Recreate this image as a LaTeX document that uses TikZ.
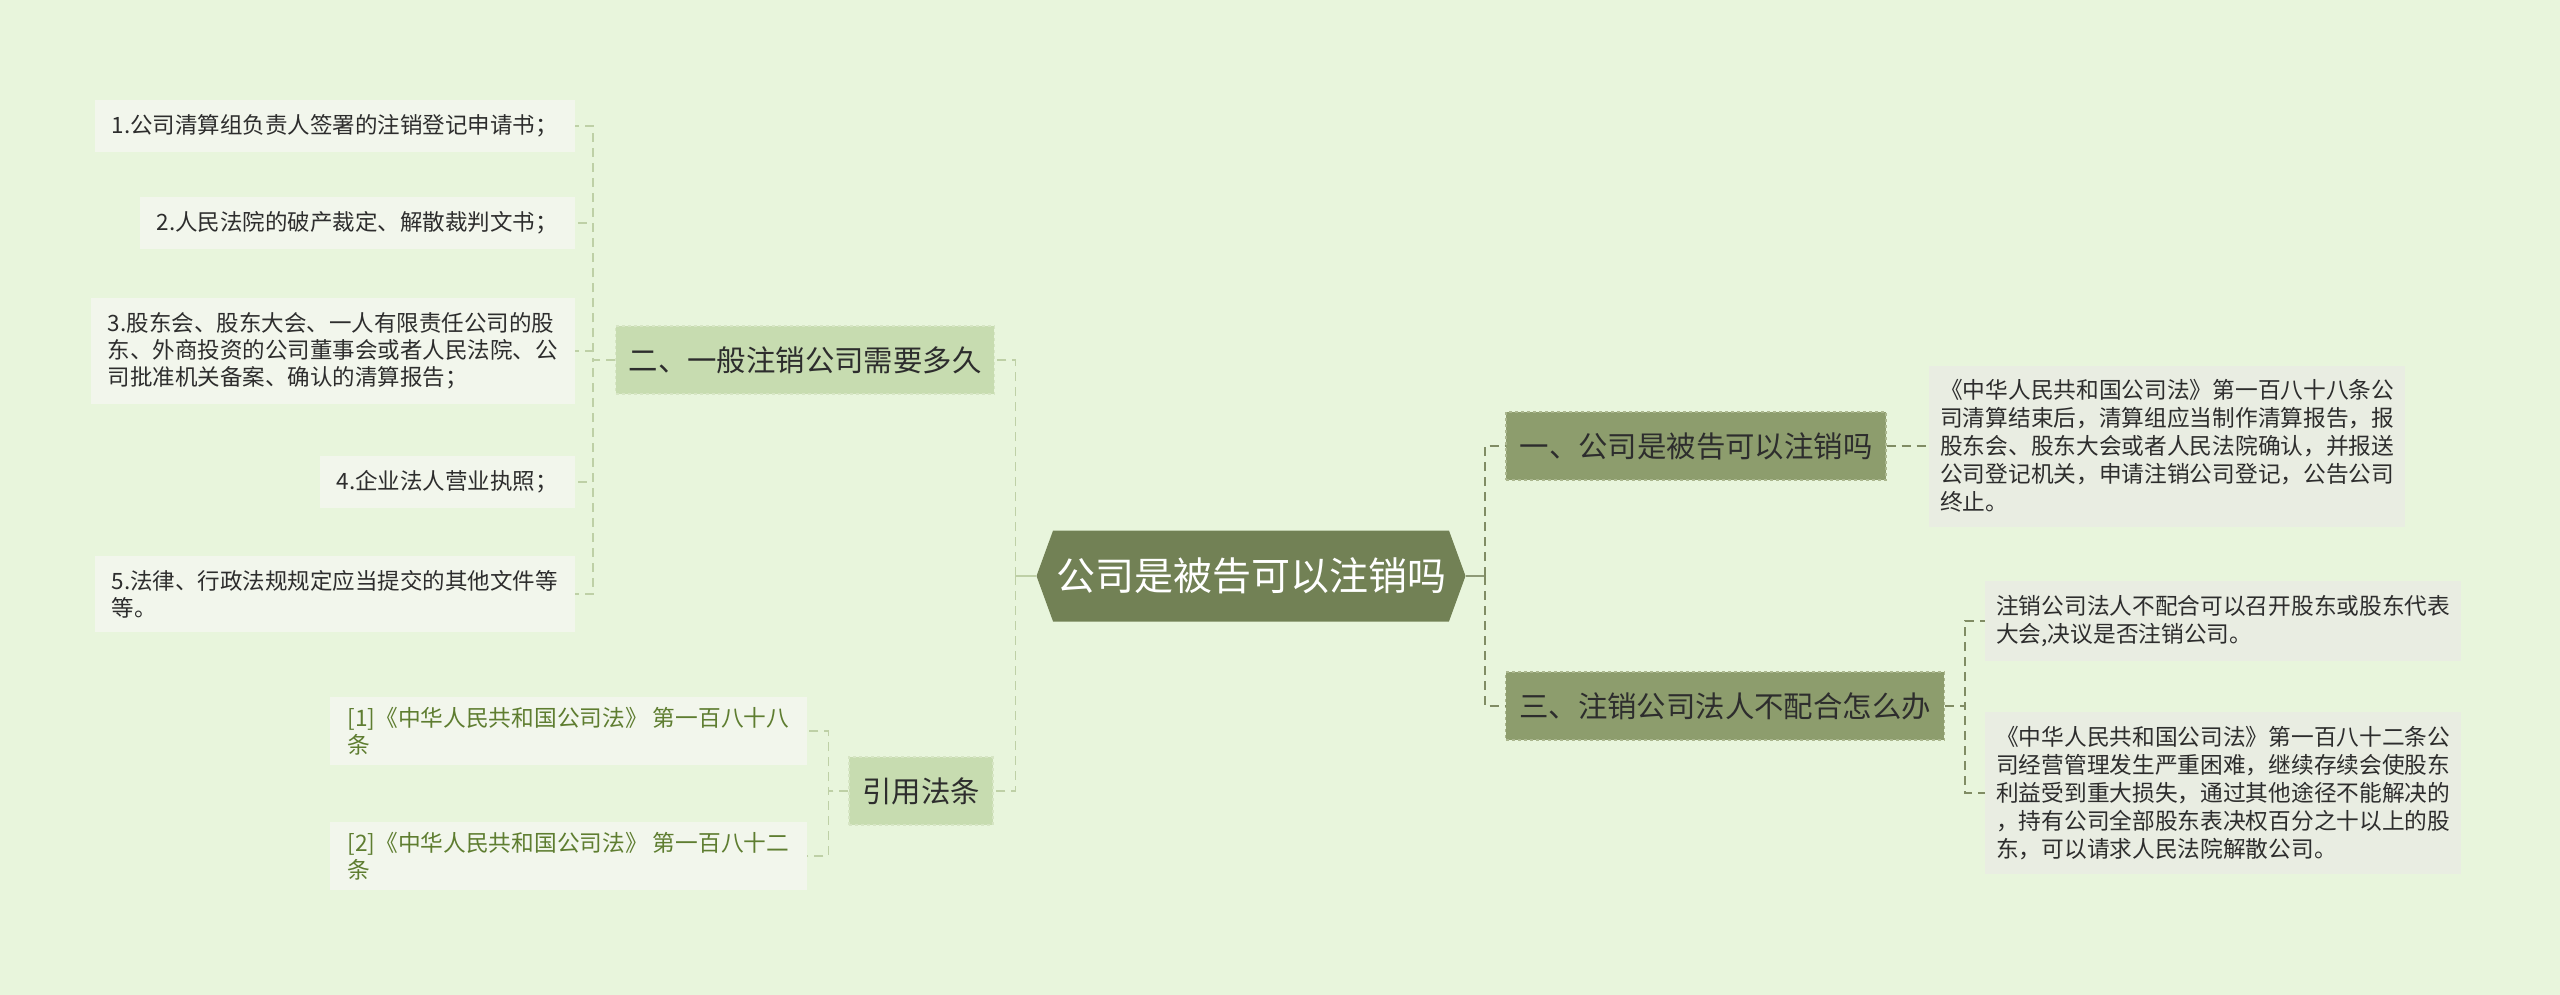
\documentclass[tikz,border=0pt]{standalone}
\usepackage{fontspec}
\setmainfont{Noto Sans CJK SC}
\usetikzlibrary{shapes.symbols}
\definecolor{bgc}{RGB}{232,245,220}
\definecolor{rootc}{RGB}{114,129,85}
\definecolor{darkc}{RGB}{141,157,109}
\definecolor{darkedge}{RGB}{170,182,142}
\definecolor{lightc}{RGB}{199,220,176}
\definecolor{lightedge}{RGB}{214,229,196}
\definecolor{leafl}{RGB}{242,246,236}
\definecolor{leafr}{RGB}{233,237,226}
\definecolor{citec}{RGB}{94,125,48}
\definecolor{txtc}{RGB}{45,45,45}
\definecolor{linel}{RGB}{190,208,166}
\definecolor{liner}{RGB}{128,140,100}

\begin{document}
\begin{tikzpicture}[x=1pt,y=-1pt,
	root/.style={signal, signal to=west and east, signal pointer angle=140, fill=rootc, text=white, font=\fontsize{39}{44}\selectfont, minimum width=429, minimum height=91, inner sep=0},
	secdark/.style={fill=darkc, draw=darkedge, dashed, line width=1.5, text=txtc, font=\fontsize{29.4}{34}\selectfont, minimum height=68, inner xsep=13.5},
	seclight/.style={fill=lightc, draw=lightedge, dashed, line width=1.5, text=txtc, font=\fontsize{29.4}{34}\selectfont, minimum height=68, inner xsep=13},
	leafleft/.style={fill=leafl, text=txtc, align=left, font=\fontsize{22.5}{27}\selectfont, inner xsep=17, inner ysep=14.5},
	leafright/.style={fill=leafr, text=txtc, align=left, font=\fontsize{22.7}{28}\selectfont, inner xsep=11, inner ysep=14},
	citeleaf/.style={fill=leafl, text=citec, align=left, font=\fontsize{22.7}{27}\selectfont, inner xsep=11, inner ysep=10, minimum width=477},
	dashl/.style={draw=linel, dashed, dash pattern=on 9pt off 6pt, line width=1.5},
	dashr/.style={draw=liner, dashed, dash pattern=on 9pt off 6pt, line width=2}]
	\fill[bgc] (0,0) rectangle (2560,995);
	\useasboundingbox (0,0) rectangle (2560,995);

	\node[root] (main) at (1251,576) {公司是被告可以注销吗};

	\node[secdark] (one) at (1696,446) {一、公司是被告可以注销吗};
	\node[secdark] (three) at (1725,706) {三、注销公司法人不配合怎么办};
	\node[seclight] (two) at (805,360) {二、一般注销公司需要多久};
	\node[seclight] (cite) at (921,791) {引用法条};

	\node[leafright, anchor=west, minimum width=476] (onetext) at (1929,446) {《中华人民共和国公司法》第一百八十八条公\\司清算结束后，清算组应当制作清算报告，报\\股东会、股东大会或者人民法院确认，并报送\\公司登记机关，申请注销公司登记，公告公司\\终止。};
	\node[leafright, anchor=west, minimum width=475] (threea) at (1985,621) {注销公司法人不配合可以召开股东或股东代表\\大会,决议是否注销公司。};
	\node[leafright, anchor=west, minimum width=475] (threeb) at (1985,793) {《中华人民共和国公司法》第一百八十二条公\\司经营管理发生严重困难，继续存续会使股东\\利益受到重大损失，通过其他途径不能解决的\\，持有公司全部股东表决权百分之十以上的股\\东，可以请求人民法院解散公司。};

	\node[leafleft, anchor=east] (itema) at (575,126) {1.公司清算组负责人签署的注销登记申请书；};
	\node[leafleft, anchor=east] (itemb) at (575,223) {2.人民法院的破产裁定、解散裁判文书；};
	\node[leafleft, anchor=east] (itemc) at (575,351) {3.股东会、股东大会、一人有限责任公司的股\\东、外商投资的公司董事会或者人民法院、公\\司批准机关备案、确认的清算报告；};
	\node[leafleft, anchor=east] (itemd) at (575,482) {4.企业法人营业执照；};
	\node[leafleft, anchor=east, minimum width=479] (iteme) at (575,594) {5.法律、行政法规规定应当提交的其他文件等\\等。};

	\node[citeleaf, anchor=east] (refa) at (807,731) {[1]《中华人民共和国公司法》 第一百八十八\\条};
	\node[citeleaf, anchor=east] (refb) at (807,856) {[2]《中华人民共和国公司法》 第一百八十二\\条};

	\draw[linel, line width=2] (main.west) -- ++(-21,0);
	\draw[rootc!80!white, line width=2] (main.east) -- ++(19,0);
	\draw[dashl] ([xshift=-21]main.west) |- (two.east);
	\draw[dashl] ([xshift=-21]main.west) |- (cite.east);
	\draw[dashr] ([xshift=19]main.east) |- (one.west);
	\draw[dashr] ([xshift=19]main.east) |- (three.west);

	\draw[dashr] (one.east) -- (onetext.west);
	\draw[dashr] (three.east) -- ++(20,0) |- (threea.west);
	\draw[dashr] (three.east) -- ++(20,0) |- (threeb.west);

	\foreach \leaf in {itema,itemb,itemc,itemd,iteme}
		\draw[dashl] (two.west) -- ++(-22,0) |- (\leaf.east);
	\draw[dashl] (cite.west) -- ++(-20,0) |- (refa.east);
	\draw[dashl] (cite.west) -- ++(-20,0) |- (refb.east);
\end{tikzpicture}
\end{document}
